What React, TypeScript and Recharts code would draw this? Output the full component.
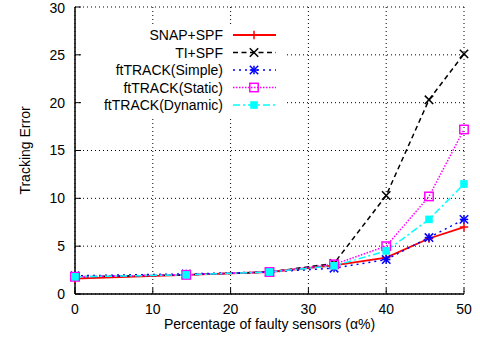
import { LineChart, Line, XAxis, YAxis, CartesianGrid, Legend } from "recharts";

const alpha = [0, 14.3, 25, 33.3, 40, 45.5, 50];
const snapSpf = [1.6, 2.0, 2.3, 3.0, 3.8, 5.8, 7.0];
const tiSpf = [1.8, 2.0, 2.3, 3.2, 10.3, 20.3, 25.1];
const ftSimple = [1.9, 2.1, 2.3, 2.7, 3.6, 5.9, 7.8];
const ftStatic = [1.8, 2.0, 2.3, 3.1, 5.0, 10.2, 17.2];
const ftDynamic = [1.8, 2.0, 2.3, 2.95, 4.5, 7.8, 11.5];

const xTicks = [0, 10, 20, 30, 40, 50];
const yTicks = [0, 5, 10, 15, 20, 25, 30];

type Kind = "plus" | "cross" | "star" | "box" | "fbox";

const series: {
  key: string;
  name: string;
  color: string;
  width: number;
  dash?: string;
  marker: Kind;
}[] = [
  { key: "snap", name: "SNAP+SPF", color: "#ff0000", width: 1.8, marker: "plus" },
  { key: "ti", name: "TI+SPF", color: "#000000", width: 1.5, dash: "5 3.5", marker: "cross" },
  { key: "simple", name: "ftTRACK(Simple)", color: "#0000ff", width: 1.5, dash: "2 4", marker: "star" },
  { key: "static", name: "ftTRACK(Static)", color: "#ff00ff", width: 1.5, dash: "1.5 1.5", marker: "box" },
  { key: "dynamic", name: "ftTRACK(Dynamic)", color: "#00ffff", width: 1.5, dash: "7 3 2 3", marker: "fbox" },
];

const data = alpha.map((a, i) => ({
  alpha: a,
  snap: snapSpf[i],
  ti: tiSpf[i],
  simple: ftSimple[i],
  static: ftStatic[i],
  dynamic: ftDynamic[i],
}));

const font = "'Liberation Sans', Arial, Helvetica, sans-serif";

function Marker({ kind, x, y, color }: { kind: Kind; x: number; y: number; color: string }) {
  const s = 4.2;
  if (kind === "plus")
    return (
      <g stroke={color} strokeWidth={1.5}>
        <line x1={x - s} x2={x + s} y1={y} y2={y} />
        <line x1={x} x2={x} y1={y - s} y2={y + s} />
      </g>
    );
  if (kind === "cross")
    return (
      <g stroke={color} strokeWidth={1.5}>
        <line x1={x - s} x2={x + s} y1={y - s} y2={y + s} />
        <line x1={x - s} x2={x + s} y1={y + s} y2={y - s} />
      </g>
    );
  if (kind === "star")
    return (
      <g stroke={color} strokeWidth={1.5}>
        <line x1={x - s} x2={x + s} y1={y} y2={y} />
        <line x1={x} x2={x} y1={y - s} y2={y + s} />
        <line x1={x - s} x2={x + s} y1={y - s} y2={y + s} />
        <line x1={x - s} x2={x + s} y1={y + s} y2={y - s} />
      </g>
    );
  if (kind === "box")
    return (
      <rect x={x - s} y={y - s} width={2 * s} height={2 * s} fill="none" stroke={color} strokeWidth={1.5} />
    );
  return <rect x={x - 3.8} y={y - 3.8} width={7.6} height={7.6} fill={color} stroke="none" />;
}

const renderLegend = () => (
  <svg width={201} height={92} style={{ display: "block", background: "#fff" }}>
    {series.map((s, i) => {
      const cy = 11 + i * 17.5;
      return (
        <g key={s.key}>
          <text
            x={140}
            y={cy + 5}
            textAnchor="end"
            fontSize={14}
            fontFamily={font}
            fill="#000"
          >
            {s.name}
          </text>
          <line
            x1={150}
            x2={193}
            y1={cy}
            y2={cy}
            stroke={s.color}
            strokeWidth={s.width}
            strokeDasharray={s.dash}
          />
          <Marker kind={s.marker} x={171} y={cy} color={s.color} />
        </g>
      );
    })}
  </svg>
);

const tickStyle = { fontSize: 14, fill: "#000", fontFamily: font };

export default function App() {
  return (
    <div style={{ position: "absolute", left: 0, top: 0, fontFamily: font, background: "#fff" }}>
      <LineChart
        width={480}
        height={347}
        data={data}
        margin={{ top: 7, right: 16, bottom: 0, left: 0 }}
      >
        <CartesianGrid stroke="#000" strokeDasharray="1 3" strokeWidth={1} />
        <XAxis
          dataKey="alpha"
          type="number"
          domain={[0, 50]}
          ticks={xTicks}
          height={53}
          tick={tickStyle}
          tickSize={-6}
          tickMargin={16}
          tickLine={{ stroke: "#000", strokeWidth: 1 }}
          axisLine={{ stroke: "#000", strokeWidth: 1.5 }}
          label={{
            value: "Percentage of faulty sensors (\u03b1%)",
            position: "insideBottom",
            offset: 18,
            style: { fontSize: 14, fill: "#000", fontFamily: font },
          }}
        />
        <XAxis
          xAxisId="top"
          orientation="top"
          dataKey="alpha"
          type="number"
          domain={[0, 50]}
          ticks={xTicks}
          height={0}
          tick={false}
          tickSize={-6}
          tickLine={{ stroke: "#000", strokeWidth: 1 }}
          axisLine={{ stroke: "#000", strokeWidth: 1.5 }}
        />
        <YAxis
          type="number"
          domain={[0, 30]}
          ticks={yTicks}
          width={75}
          tick={tickStyle}
          tickSize={-6}
          tickMargin={16}
          tickLine={{ stroke: "#000", strokeWidth: 1 }}
          axisLine={{ stroke: "#000", strokeWidth: 1.5 }}
          label={{
            value: "Tracking Error",
            angle: -90,
            position: "insideLeft",
            offset: 25,
            style: { textAnchor: "middle", fontSize: 14, fill: "#000", fontFamily: font },
          }}
        />
        <YAxis
          yAxisId="right"
          orientation="right"
          type="number"
          domain={[0, 30]}
          ticks={yTicks}
          width={0}
          tick={false}
          tickSize={-6}
          tickLine={{ stroke: "#000", strokeWidth: 1 }}
          axisLine={{ stroke: "#000", strokeWidth: 1.5 }}
        />
        <Legend
          content={renderLegend}
          layout="horizontal"
          verticalAlign="middle"
          align="center"
          wrapperStyle={{ left: 83, top: 24, width: 201, height: 92 }}
        />
        {series.map((s) => (
          <Line
            key={s.key}
            dataKey={s.key}
            name={s.name}
            type="linear"
            stroke={s.color}
            strokeWidth={s.width}
            strokeDasharray={s.dash}
            isAnimationActive={false}
            activeDot={false}
            dot={(p: any) => (
              <Marker key={`${s.key}-${p.index}`} kind={s.marker} x={p.cx} y={p.cy} color={s.color} />
            )}
          />
        ))}
      </LineChart>
    </div>
  );
}
